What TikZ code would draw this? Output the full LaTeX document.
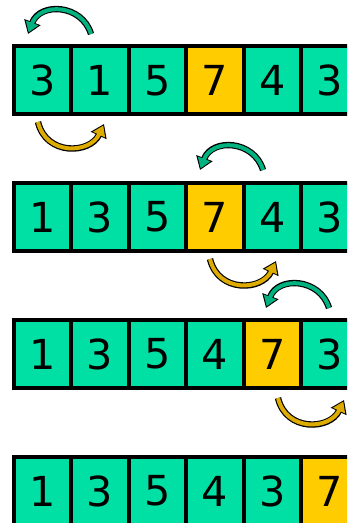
\documentclass[tikz,border=0pt]{standalone}
\usepackage{fontspec}
\newfontfamily\cellfont{DejaVu Sans}
\usetikzlibrary{arrows.meta}

\begin{document}
\begin{tikzpicture}[x=0.75pt,y=0.75pt,yscale=-1,xscale=1,
  cell/.style={draw=black, line width=3pt, fill={rgb, 255:red, 0; green, 224; blue, 164}, minimum width=43.125pt, minimum height=51pt, inner sep=0pt, outer sep=0pt, font=\cellfont\fontsize{31}{32}\selectfont},
  hot/.style={cell, fill={rgb, 255:red, 255; green, 204; blue, 0}},
  leftarc/.style={preaction={draw=black, line width=4.8pt, shorten >=0pt, -{Triangle[length=9.5pt,width=12.5pt]}}, draw={rgb, 255:red, 0; green, 178; blue, 128}, line width=3pt, shorten >=1.3pt, -{Triangle[length=7.5pt,width=9.5pt]}},
  rightarc/.style={preaction={draw=black, line width=4.8pt, shorten >=0pt, -{Triangle[length=9.5pt,width=12.5pt]}}, draw={rgb, 255:red, 222; green, 172; blue, 0}, line width=3pt, shorten >=1.3pt, -{Triangle[length=7.5pt,width=9.5pt]}}]
%set diagram size 347 x 523
\clip (0,0) rectangle (347,523);

%Row 1
\node [cell] (r1c1) at (42.25,80.5) {3};
\node [cell] (r1c2) at (99.75,80.5) {1};
\node [cell] (r1c3) at (157.25,80.5) {5};
\node [hot] (r1c4) at (214.75,80.5) {7};
\node [cell] (r1c5) at (272.25,80.5) {4};
\node [cell] (r1c6) at (329.75,80.5) {3};
%Row 2
\node [cell] (r2c1) at (42.25,217) {1};
\node [cell] (r2c2) at (99.75,217) {3};
\node [cell] (r2c3) at (157.25,217) {5};
\node [hot] (r2c4) at (214.75,217) {7};
\node [cell] (r2c5) at (272.25,217) {4};
\node [cell] (r2c6) at (329.75,217) {3};
%Row 3
\node [cell] (r3c1) at (42.25,354) {1};
\node [cell] (r3c2) at (99.75,354) {3};
\node [cell] (r3c3) at (157.25,354) {5};
\node [cell] (r3c4) at (214.75,354) {4};
\node [hot] (r3c5) at (272.25,354) {7};
\node [cell] (r3c6) at (329.75,354) {3};
%Row 4
\node [cell] (r4c1) at (42.25,491) {1};
\node [cell] (r4c2) at (99.75,491) {3};
\node [cell] (r4c3) at (157.25,491) {5};
\node [cell] (r4c4) at (214.75,491) {4};
\node [cell] (r4c5) at (272.25,491) {3};
\node [hot] (r4c6) at (329.75,491) {7};

%Arc ends
\coordinate (up1a) at (91,34);
\coordinate (up1b) at (28,34);
\coordinate (dn1a) at (38,122);
\coordinate (dn1b) at (104,124);
\coordinate (up2a) at (263,170);
\coordinate (up2b) at (200,170);
\coordinate (dn2a) at (210,259);
\coordinate (dn2b) at (276,261);
\coordinate (up3a) at (329,308);
\coordinate (up3b) at (266,308);
\coordinate (dn3a) at (278,398);
\coordinate (dn3b) at (344,400);

%Curve Lines
\draw [leftarc] (up1a) .. controls +(-9,-30) and +(12,-32) .. (up1b);
\draw [rightarc] (dn1a) .. controls +(8,34) and +(-14,30) .. (dn1b);
\draw [leftarc] (up2a) .. controls +(-9,-30) and +(12,-32) .. (up2b);
\draw [rightarc] (dn2a) .. controls +(8,34) and +(-14,30) .. (dn2b);
\draw [leftarc] (up3a) .. controls +(-9,-30) and +(12,-32) .. (up3b);
\draw [rightarc] (dn3a) .. controls +(8,34) and +(-14,30) .. (dn3b);

\end{tikzpicture}
\end{document}
